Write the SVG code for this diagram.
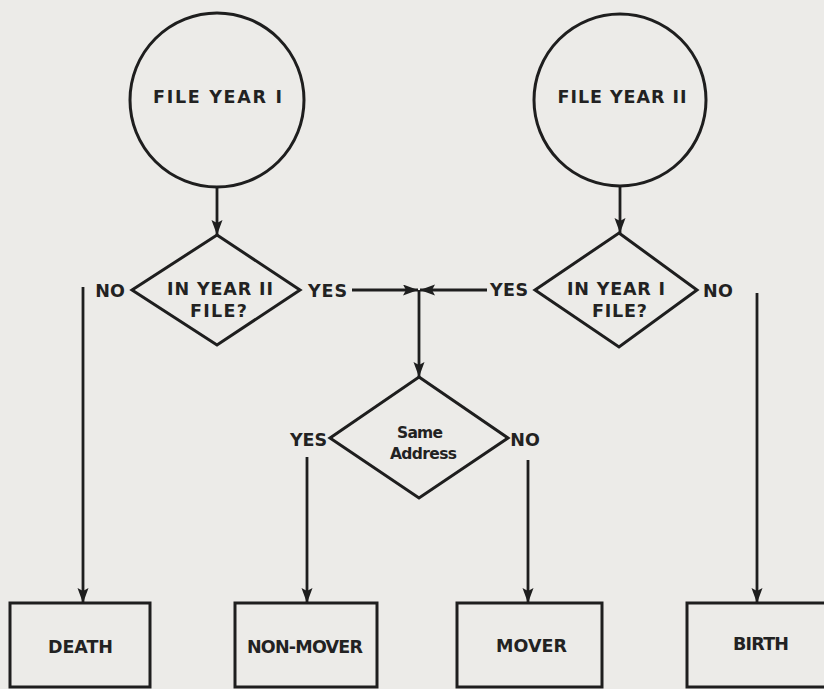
<svg xmlns="http://www.w3.org/2000/svg" width="824" height="689" viewBox="0 0 824 689">
<style>
.shape{fill:none;stroke:#1e1e1e;stroke-width:3}
.ln{fill:none;stroke:#1e1e1e;stroke-width:2.8}
.t{font-family:"DejaVu Sans","Liberation Sans",Arial,sans-serif;font-weight:bold;font-size:17.5px;fill:#222;text-anchor:middle}
.s{font-size:15.5px}
</style>
<defs>
<marker id="ah" markerUnits="userSpaceOnUse" markerWidth="18" markerHeight="12" refX="15" refY="5.5" orient="auto">
<path d="M0,0 L15,5.5 L0,11 L3,5.5 Z" fill="#1e1e1e"/>
</marker>
</defs>
<rect width="824" height="689" fill="#ecebe8"/>
<g id="file-year-1"><circle class="shape" cx="217" cy="100" r="87"/><text class="t" x="217.5" y="103" textLength="129" lengthAdjust="spacing">FILE YEAR I</text></g>
<g id="file-year-2"><circle class="shape" cx="620" cy="100" r="86"/><text class="t" x="622" y="103" textLength="129" lengthAdjust="spacing">FILE YEAR II</text></g>
<g id="in-year-2"><polygon class="shape" points="217,235 300,290 217,345 132,290"/><text class="t" x="220" y="295" textLength="106" lengthAdjust="spacing">IN YEAR II</text><text class="t" x="218.5" y="317" textLength="57" lengthAdjust="spacing">FILE?</text></g>
<g id="in-year-1"><polygon class="shape" points="619,233 697,290 619,347 535,290"/><text class="t" x="616" y="295" textLength="98" lengthAdjust="spacing">IN YEAR I</text><text class="t" x="619.5" y="317" textLength="55" lengthAdjust="spacing">FILE?</text></g>
<g id="same-address"><polygon class="shape" points="419,377 508,438 419,498 330,438"/><text class="t s" x="420" y="438" textLength="46" lengthAdjust="spacing">Same</text><text class="t s" x="423.5" y="459" textLength="67" lengthAdjust="spacing">Address</text></g>
<g id="death"><rect class="shape" x="10" y="603" width="140" height="84"/><text class="t" x="80.5" y="653" textLength="65" lengthAdjust="spacing">DEATH</text></g>
<g id="non-mover"><rect class="shape" x="235" y="603" width="142" height="84"/><text class="t" x="305" y="653" textLength="116" lengthAdjust="spacing">NON-MOVER</text></g>
<g id="mover"><rect class="shape" x="457" y="603" width="145" height="84"/><text class="t" x="531.5" y="652" textLength="71" lengthAdjust="spacing">MOVER</text></g>
<g id="birth"><rect class="shape" x="687" y="603" width="150" height="84"/><text class="t" x="761" y="650" textLength="56" lengthAdjust="spacing">BIRTH</text></g>
<g id="connectors">
<line class="ln" x1="217" y1="188" x2="217" y2="235" marker-end="url(#ah)"/>
<line class="ln" x1="620" y1="187" x2="620" y2="233" marker-end="url(#ah)"/>
<line class="ln" x1="352" y1="290" x2="418" y2="290" marker-end="url(#ah)"/>
<line class="ln" x1="487" y1="290" x2="420" y2="290" marker-end="url(#ah)"/>
<line class="ln" x1="419" y1="290" x2="419" y2="377" marker-end="url(#ah)"/>
<line class="ln" x1="83" y1="287" x2="83" y2="603" marker-end="url(#ah)"/>
<line class="ln" x1="757" y1="293" x2="757" y2="603" marker-end="url(#ah)"/>
<line class="ln" x1="307" y1="457" x2="307" y2="603" marker-end="url(#ah)"/>
<line class="ln" x1="528" y1="460" x2="528" y2="603" marker-end="url(#ah)"/>
<text class="t" x="110" y="297">NO</text>
<text class="t" x="327.5" y="297" textLength="39" lengthAdjust="spacing">YES</text>
<text class="t" x="509" y="296" textLength="38" lengthAdjust="spacing">YES</text>
<text class="t" x="718" y="297" textLength="30" lengthAdjust="spacing">NO</text>
<text class="t" x="308.5" y="446" textLength="37" lengthAdjust="spacing">YES</text>
<text class="t" x="525" y="446">NO</text>
</g>
</svg>
